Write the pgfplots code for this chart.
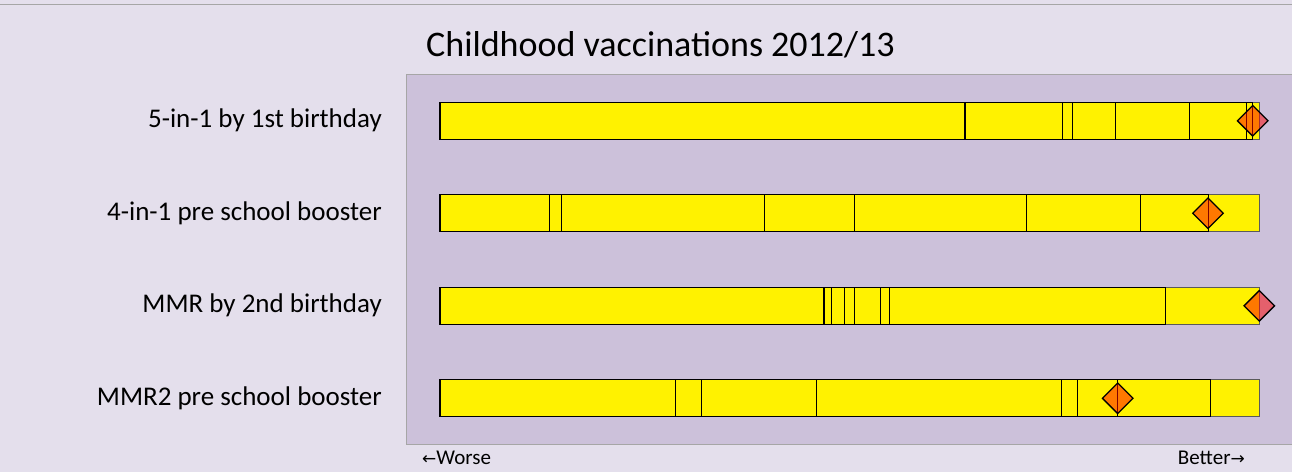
\documentclass[border=0pt]{standalone}
\usepackage{pgfplots}
\usepackage{pgfplotstable}
\pgfplotsset{compat=1.18}
\usepackage{fontspec}
\setmainfont{Carlito}
\newfontfamily\arrowfont{DejaVu Sans}
\definecolor{outerbg}{HTML}{E4DFEC}
\definecolor{plotbg}{HTML}{CCC1DA}
\definecolor{frame}{HTML}{A6A6A6}
\definecolor{lastedge}{HTML}{5A5A5A}

% cumulative segment boundaries (px from bar start) and marker position
\pgfplotstableread{
row b1    b2    b3    b4    b5    b6    b7    b8    marker
3   525   622   632.7 675.3 749.3 806   812.7 819.3 812.7
2   109.7 121.7 324.3 414.3 586   700   768   819.3 768
1   384   391   404.7 414.7 440.7 449.3 725   819.3 819.3
0   235.7 261.3 376.7 621.3 637.3 677.7 770.7 819.3 677.7
}\spinedata

\begin{document}
\begin{tikzpicture}[x=1pt,y=1pt]
\useasboundingbox (0,0) rectangle (1292,472);
\fill[outerbg] (0,0) rectangle (1292,472);
\draw[frame, line width=1pt] (0,467.7) -- (1292,467.7);
\begin{axis}[
  at={(406pt,28pt)}, anchor=south west,
  scale only axis, width=886pt, height=369pt,
  xmin=-34, xmax=852, ymin=-0.494, ymax=3.495,
  axis background/.style={fill=plotbg},
  axis line style={draw=frame, line width=1pt},
  xtick=\empty,
  ytick={0,1,2,3},
  yticklabels={MMR2 pre school booster, MMR by 2nd birthday, 4-in-1 pre school booster, 5-in-1 by 1st birthday},
  major tick length=0pt,
  yticklabel style={font=\fontsize{27}{32}\selectfont, inner sep=0pt, xshift=-24pt, text=black},
  clip=false,
  seg/.style={xbar, bar shift=0pt, bar width=37pt, fill=yellow, draw=black, line width=1pt, mark=none},
]
\addplot[seg, draw=lastedge] table[x=b8,y=row]{\spinedata};
\addplot[seg] table[x=b7,y=row]{\spinedata};
\addplot[seg] table[x=b6,y=row]{\spinedata};
\addplot[seg] table[x=b5,y=row]{\spinedata};
\addplot[seg] table[x=b4,y=row]{\spinedata};
\addplot[seg] table[x=b3,y=row]{\spinedata};
\addplot[seg] table[x=b2,y=row]{\spinedata};
\addplot[seg, line width=1.3pt] table[x=b1,y=row]{\spinedata};
\addplot[only marks, mark=square*, mark size=10.8pt,
  mark options={rotate=45, fill=red, fill opacity=0.5, draw=black, line width=1.3pt}]
  table[x=marker,y=row]{\spinedata};
\end{axis}
\node[anchor=base, inner sep=0pt, font=\fontsize{36}{42}\selectfont] at (660.5,415) {Childhood vaccinations 2012/13};
\node[anchor=base west, inner sep=0pt, font=\fontsize{21}{25}\selectfont] at (422,8) {{\arrowfont\fontsize{17}{20}\selectfont ←}Worse};
\node[anchor=base east, inner sep=0pt, font=\fontsize{21}{25}\selectfont] at (1245,8) {Better{\arrowfont\fontsize{17}{20}\selectfont →}};
\end{tikzpicture}
\end{document}
